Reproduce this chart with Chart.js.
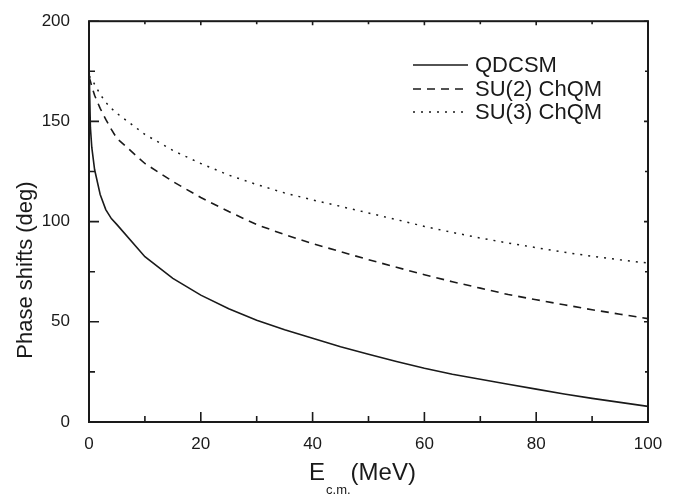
<!DOCTYPE html>
<html>
<head>
<meta charset="utf-8">
<script src="https://cdn.jsdelivr.net/npm/chart.js@4.4.1/dist/chart.umd.min.js"></script>
<style>
  html, body { margin: 0; padding: 0; background: #fff; }
  #wrap { width: 694px; height: 499px; }
</style>
</head>
<body>
<div id="wrap"><canvas id="phaseChart"></canvas></div>
<script>
// energies (MeV) shared by the three curves
const energies = [0, 0.25, 0.5, 1, 2, 3, 4, 5, 10, 15, 20, 25, 30, 35, 40, 45, 50, 55, 60, 65, 70, 75, 80, 85, 90, 95, 100];

// phase shifts (deg)
const qdcsm = [180, 147, 137, 126, 113.5, 106, 101.5, 98.5, 82.5, 71.7, 63.3, 56.5, 50.8, 46, 41.8, 37.6, 33.8, 30.2, 26.8, 23.8, 21.3, 18.8, 16.4, 14, 11.8, 9.8, 7.8];
const su2 = [172, 170, 167.5, 163, 156.5, 151, 146, 141.5, 129, 120, 112, 105, 98.5, 93.5, 89, 85, 81, 77.2, 73.5, 70, 66.8, 63.6, 61, 58.5, 56, 53.8, 51.6];
const su3 = [172.5, 172, 171, 168.5, 163.5, 159.5, 156.5, 154, 143.5, 135.5, 129, 123.2, 118.5, 114.3, 110.8, 107.6, 104.3, 101, 97.6, 94.6, 91.8, 89.3, 87, 84.7, 82.7, 80.9, 79.3];

const seriesNames = ["QDCSM", "SU(2) ChQM", "SU(3) ChQM"];

// tick labels
const xTicks = [0, 20, 40, 60, 80, 100];
const yTicks = [0, 50, 100, 150, 200];

const INK = "#1a1a1a";
const FONT = "'Liberation Sans', Arial, Helvetica, sans-serif";

const toPoints = (vals) => energies.map((e, i) => ({ x: e, y: vals[i] }));

// box, inward ticks on all four sides, legend and axis titles
const framePlugin = {
  id: "frame",
  afterDraw(chart) {
    const { ctx, chartArea: a, scales } = chart;
    const x = scales.x, y = scales.y;
    ctx.save();
    ctx.strokeStyle = INK;
    ctx.lineWidth = 2;
    ctx.strokeRect(a.left, a.top, a.right - a.left, a.bottom - a.top);

    ctx.lineWidth = 1.6;
    ctx.beginPath();
    const xStep = (xTicks[1] - xTicks[0]) / 2;
    for (let v = xTicks[0]; v <= xTicks[xTicks.length - 1]; v += xStep) {
      const px = x.getPixelForValue(v);
      const major = xTicks.includes(v);
      ctx.moveTo(px, a.bottom);
      ctx.lineTo(px, a.bottom - (major ? 10 : 6));
      ctx.moveTo(px, a.top);
      ctx.lineTo(px, a.top + (major ? 4 : 3));
    }
    const yStep = (yTicks[1] - yTicks[0]) / 2;
    for (let v = yTicks[0]; v <= yTicks[yTicks.length - 1]; v += yStep) {
      const py = y.getPixelForValue(v);
      const major = yTicks.includes(v);
      ctx.moveTo(a.left, py);
      ctx.lineTo(a.left + (major ? 10 : 6), py);
      ctx.moveTo(a.right, py);
      ctx.lineTo(a.right - (major ? 4 : 3), py);
    }
    ctx.stroke();

    // legend
    const rows = [65, 89, 112];
    chart.data.datasets.forEach((ds, i) => {
      ctx.save();
      ctx.strokeStyle = ds.borderColor;
      ctx.lineWidth = ds.borderWidth;
      ctx.setLineDash(ds.borderDash || []);
      ctx.beginPath();
      ctx.moveTo(413, rows[i]);
      ctx.lineTo(468, rows[i]);
      ctx.stroke();
      ctx.restore();
      ctx.fillStyle = INK;
      ctx.font = "22px " + FONT;
      ctx.textBaseline = "middle";
      ctx.textAlign = "left";
      ctx.fillText(ds.label, 475, rows[i] + 1);
    });

    // axis titles
    ctx.fillStyle = INK;
    ctx.save();
    ctx.translate(26, 270);
    ctx.rotate(-Math.PI / 2);
    ctx.font = "22px " + FONT;
    ctx.textAlign = "center";
    ctx.textBaseline = "middle";
    ctx.fillText("Phase shifts (deg)", 0, 0);
    ctx.restore();

    ctx.textAlign = "left";
    ctx.textBaseline = "alphabetic";
    const big = "24px " + FONT, small = "13px " + FONT;
    ctx.font = big;
    const wE = ctx.measureText("E").width;
    const wM = ctx.measureText("(MeV)").width;
    ctx.font = small;
    const wS = ctx.measureText("c.m.").width;
    let tx = 362 - (wE + wS + wM) / 2;
    ctx.font = big;
    ctx.fillText("E", tx, 480);
    tx += wE + 1;
    ctx.font = small;
    ctx.fillText("c.m.", tx, 494);
    tx += wS;
    ctx.font = big;
    ctx.fillText("(MeV)", tx, 480);
    ctx.restore();
  },
};

const lineStyle = {
  borderColor: INK,
  borderWidth: 1.6,
  pointRadius: 0,
  tension: 0,
  fill: false,
};

new Chart(document.getElementById("phaseChart"), {
  type: "line",
  data: {
    datasets: [
      { ...lineStyle, label: seriesNames[0], data: toPoints(qdcsm) },
      { ...lineStyle, label: seriesNames[1], data: toPoints(su2), borderDash: [8, 6] },
      { ...lineStyle, label: seriesNames[2], data: toPoints(su3), borderDash: [2, 6], borderWidth: 1.5 },
    ],
  },
  options: {
    responsive: true,
    maintainAspectRatio: false,
    devicePixelRatio: 1,
    animation: false,
    layout: { padding: { top: 11, right: 46, left: 0, bottom: 0 } },
    plugins: { legend: { display: false }, tooltip: { enabled: false } },
    scales: {
      x: {
        type: "linear",
        min: 0,
        max: 100,
        afterBuildTicks: (s) => { s.ticks = xTicks.map((v) => ({ value: v })); },
        afterFit: (s) => { s.height = 77; },
        grid: { display: false },
        border: { display: false },
        ticks: { color: INK, font: { size: 17, family: FONT }, padding: 4, maxRotation: 0 },
      },
      y: {
        min: 0,
        max: 200,
        afterBuildTicks: (s) => { s.ticks = yTicks.map((v) => ({ value: v })); },
        afterFit: (s) => { s.width = 89; },
        grid: { display: false },
        border: { display: false },
        ticks: { color: INK, font: { size: 17, family: FONT }, padding: 11 },
      },
    },
  },
  plugins: [framePlugin],
});
</script>
</body>
</html>
